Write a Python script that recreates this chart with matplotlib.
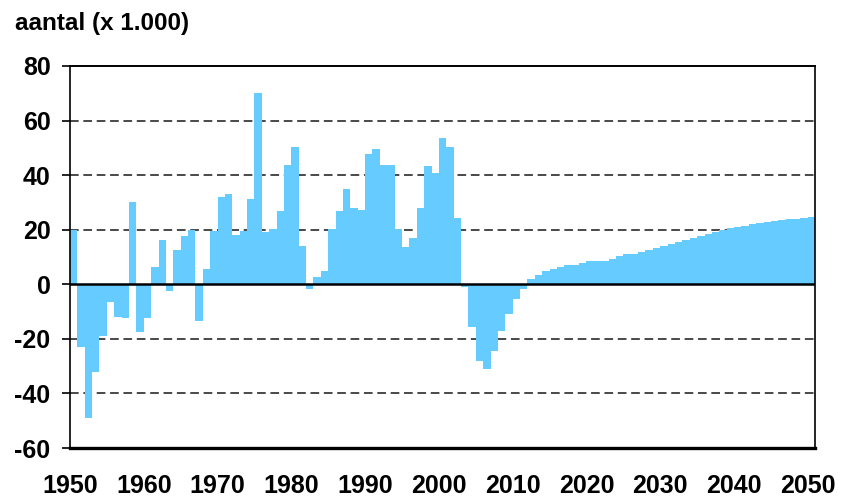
import numpy as np
import matplotlib.pyplot as plt

plt.rcParams['font.family'] = ['Liberation Sans', 'DejaVu Sans']
plt.rcParams['font.weight'] = 'bold'
plt.rcParams['axes.unicode_minus'] = False

title = "aantal (x 1.000)"
years = np.arange(1950, 2051)
values = [
    20, -23, -49, -32, -19, -6.5, -12, -12.5, 30, -17.5,          # 1950-1959
    -12.5, 6.4, 16.4, -2.4, 12.5, 17.8, 20, -13.3, 5.7, 19.6,     # 1960-1969
    32, 33, 18, 19.6, 31.4, 70, 19, 20.4, 27, 43.6,               # 1970-1979
    50.3, 14, -1.6, 2.8, 4.8, 20.2, 26.7, 35, 28.1, 27.4,         # 1980-1989
    47.8, 49.4, 43.8, 43.8, 20.1, 13.8, 17.1, 28.1, 43.5, 40.6,   # 1990-1999
    53.5, 50.4, 24.3, -1.0, -15.5, -28.2, -31, -24.5, -17.3, -10.9,  # 2000-2009
    -5.5, -1.7, 2.1, 3.5, 4.7, 5.5, 6.3, 7.0, 7.0, 7.7,           # 2010-2019
    8.6, 8.6, 8.6, 9.3, 10.2, 11.0, 11.0, 11.8, 12.6, 13.2,       # 2020-2029
    14.0, 14.8, 15.6, 16.4, 17.1, 17.8, 18.5, 19.2, 19.8, 20.5,   # 2030-2039
    21.0, 21.5, 22.0, 22.5, 22.9, 23.2, 23.6, 23.9, 24.1, 24.3,   # 2040-2049
    24.5,                                                          # 2050
]
yticks = [-60, -40, -20, 0, 20, 40, 60, 80]
xticks = list(range(1950, 2051, 10))

fig = plt.figure(figsize=(8.43, 4.98), dpi=100)
ax = fig.add_axes([0.083, 0.1004, 0.884, 0.7671])

ax.bar(years, values, width=1.0, align="edge", color="#66CCFF", linewidth=0, zorder=2)

for y in [-40, -20, 20, 40, 60]:
    ax.axhline(y, color="#3a3a3a", linewidth=1.3, linestyle=(0, (4.8, 2.6)), zorder=1)
ax.axhline(0, color="black", linewidth=1.8, zorder=3)

ax.set_xlim(1950, 2051)
ax.set_ylim(-60, 80)
ax.set_yticks(yticks)
ax.set_xticks(xticks)
ax.tick_params(axis="y", direction="out", length=6, width=1.2, pad=8, labelsize=18)
ax.tick_params(axis="x", length=0, pad=19, labelsize=18)

ax.spines["bottom"].set_linewidth(2.4)
ax.spines["top"].set_linewidth(1.4)
ax.spines["left"].set_linewidth(1.2)
ax.spines["right"].set_linewidth(1.2)

fig.text(0.018, 0.94, title, fontsize=17.5, fontweight="bold", va="baseline")

fig.savefig("out.png", dpi=100)
